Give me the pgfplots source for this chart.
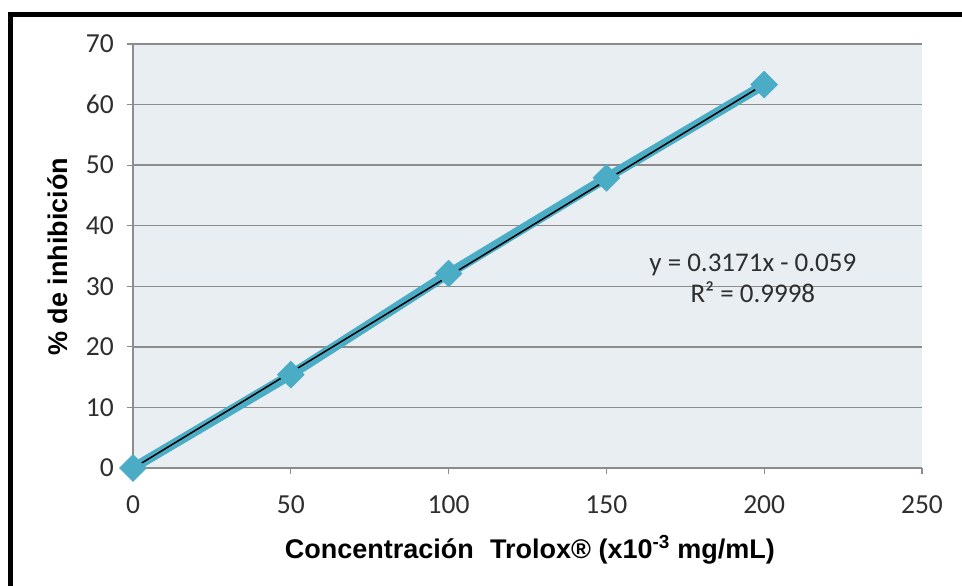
\documentclass[border=0pt]{standalone}
\usepackage{fontspec}
\setmainfont{Carlito}
\newfontfamily\arialfont{Liberation Sans}
\usepackage{pgfplots}
\pgfplotsset{compat=1.18}
\definecolor{serie}{HTML}{4BACC6}
\definecolor{fondo}{HTML}{E8EEF2}
\definecolor{rejilla}{HTML}{8C8C8C}
\definecolor{texto}{HTML}{2E2E2E}

\begin{document}
\begin{tikzpicture}
\useasboundingbox (0pt,0pt) rectangle (962pt,586pt);
\fill[white] (0pt,0pt) rectangle (962pt,586pt);
% marco negro (solo izquierda y arriba)
\draw[line width=5pt, line join=miter] (10.5pt,-5pt) -- (10.5pt,571.5pt) -- (970pt,571.5pt);

\begin{axis}[
    at={(133pt,118pt)}, anchor=south west,
    scale only axis, width=789pt, height=424pt,
    xmin=0, xmax=250, ymin=0, ymax=70,
    xtick={0,50,...,250}, ytick={0,10,...,70},
    axis x line*=bottom, axis y line*=left,
    axis line style={rejilla, line width=1.2pt, -},
    axis background/.style={fill=fondo},
    ymajorgrids, grid style={rejilla, line width=1.3pt},
    tick align=outside, major tick length=6pt,
    tick style={rejilla, line width=1.2pt},
    /pgf/number format/assume math mode=true,
    ticklabel style={font=\fontsize{27.5}{31}\selectfont, text=texto, inner sep=0pt},
    xticklabel style={yshift=-21pt},
    yticklabel style={xshift=-13pt},
    xlabel={Concentración\hspace{0.6em}Trolox® (x10\textsuperscript{-3} mg/mL)},
    ylabel={\% de inhibición},
    label style={font=\arialfont\bfseries\fontsize{27}{31}\selectfont, inner sep=0pt},
    xlabel style={at={(axis description cs:0.503,-0.2123)}, anchor=base},
    ylabel style={at={(axis description cs:-0.0824,0.498)}, anchor=base, rotate=0},
    clip=false,
]
\addplot[serie, line width=9.5pt, mark=square*, mark size=9.5pt,
         mark options={rotate=45, solid, line width=0.5pt, fill=serie}]
  coordinates {(0,0) (50,15.4) (100,32.1) (150,47.9) (200,63.3)};
\addplot[black, line width=1.5pt] coordinates {(0,-0.059) (200,63.361)};
\node[anchor=base, font=\fontsize{27}{31}\selectfont, text=texto]
  at (axis cs:196.4,32.36) {y = 0.3171x - 0.059};
\node[anchor=base, font=\fontsize{27}{31}\selectfont, text=texto]
  at (axis cs:196.4,27.24) {R² = 0.9998};
\end{axis}
\end{tikzpicture}
\end{document}
